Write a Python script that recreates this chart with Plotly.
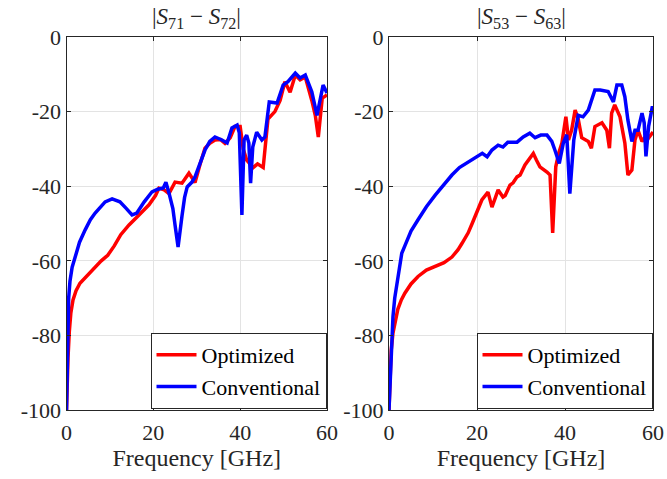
import plotly.graph_objects as go

# ---------------- data ----------------
freq_l_opt = [0, 0.15, 0.35, 0.65, 1.0, 1.5, 2.2, 3.1, 4.3, 5.5, 6.5, 8, 9.5, 11, 12.5, 14.4, 16.7, 19,
              20.5, 21.3, 22.5, 23.6, 25, 26.6, 28.2, 29.6, 30.8, 31.9, 33, 34.2, 35.5, 36.5, 37.7, 38.8,
              40, 40.7, 41.5, 43, 44, 45.3, 46.4, 48, 49.2, 50.3, 51.5, 52.7, 53.8, 55, 56.5, 57.3, 58,
              58.9, 60]
val_l_opt = [-100, -92, -86, -79, -74, -70.5, -68, -66, -64.5, -63, -61.7, -60, -58.5, -56, -53, -50.4,
             -47.7, -45, -42.5, -40.5, -41, -42, -38.9, -39.2, -36.5, -39, -34, -29.8, -28.5, -27.6, -27.5,
             -28.5, -27, -24, -24, -30, -33, -35, -34, -35, -22, -20, -17, -12, -14.8, -10.2, -11.5, -10.7,
             -17, -21, -26.8, -16.4, -15.5]

freq_l_conv = [0, 0.15, 0.3, 0.5, 0.8, 1.3, 2, 3, 4.3, 5.5, 6.6, 7.8, 8.9, 10.5, 12.3, 13.8, 15.1, 16.2,
               17.9, 19.7, 21, 22.3, 22.9, 23.6, 24.5, 25, 25.7, 26.6, 27.2, 27.8, 28.9, 29.6, 30.5, 31.9,
               33, 34.2, 35.8, 37, 38.1, 39.3, 39.8, 40.4, 40.9, 41.5, 42, 42.4, 42.9, 43.8, 45, 45.7, 46.7,
               48.5, 49.9, 51, 52.7, 53.8, 55, 56.5, 57.7, 58.4, 59.1, 60]
val_l_conv = [-100, -88, -78, -70, -65.5, -61.7, -59, -55, -51.7, -49, -47.2, -45.5, -44.2, -43.4, -44.2,
              -46, -47.7, -47.2, -44.2, -41.5, -40.8, -40.5, -38.9, -41.8, -46, -50.4, -56.3, -48, -43,
              -40.2, -38.9, -37.5, -34.5, -30.3, -28, -26.8, -27.6, -28.4, -24.4, -23.6, -25.7, -47.7,
              -27.6, -26.3, -28.4, -39.2, -29.5, -25.5, -27.6, -26.8, -17.4, -17.7, -12.9, -12, -9.7, -11,
              -10.2, -14.7, -21, -17, -12.9, -15]

freq_r_opt = [0, 0.2, 0.5, 0.9, 1.4, 2, 2.8, 3.6, 5, 6.6, 8.5, 10.5, 12.5, 14.3, 15.7, 16.6, 18, 18.9, 20,
              21.1, 22.5, 23.4, 24.2, 24.8, 25.9, 26.4, 27.5, 28.2, 29.1, 29.8, 30.9, 32, 32.8, 33.5, 34.3,
              35.9, 36.6, 37.2, 37.9, 38.6, 39.3, 40.2, 40.8, 41.5, 42.3, 43, 43.8, 45.3, 46, 46.8, 48.4,
              49.5, 50.1, 50.6, 51.3, 52.5, 53.6, 54.3, 55.2, 55.9, 56.6, 57.5, 58.2, 58.9, 60]
val_r_opt = [-100, -92, -84, -79.4, -76, -73, -70.5, -68.7, -66.2, -64.2, -62.5, -61.6, -60.5, -59, -57,
             -55.3, -52.5, -50, -47, -43.7, -41.6, -45.6, -43, -41, -42.9, -42.5, -39.7, -39.1, -37.5, -37,
             -34.3, -32.5, -31.2, -33, -34.8, -36.2, -37, -52.5, -34.8, -31, -28.4, -21.4, -27.6, -25,
             -19.6, -22, -27, -28, -29.8, -24, -23, -25, -29.8, -20.4, -18.2, -21.4, -28.4, -37, -35.7,
             -27.6, -25, -28, -26.8, -27.2, -25.5]

freq_r_conv = [0, 0.3, 0.7, 0.9, 1.3, 1.8, 2.4, 2.9, 3.6, 5, 6.6, 8.5, 10.5, 12.5, 14.3, 16, 18, 19.5, 21.2,
               22.3, 23.4, 24.8, 25.9, 27, 29.1, 30.5, 32, 33.2, 34.5, 35.9, 37, 37.7, 38.7, 39.6, 40.4,
               41.1, 42, 43, 44.1, 45.3, 46.8, 48, 49.8, 51, 51.8, 52.9, 53.6, 54.3, 55.2, 55.9, 56.6, 57.5,
               58, 58.4, 59, 59.8, 60]
val_r_conv = [-100, -90, -83, -75, -70, -66, -61, -58, -56, -52, -49, -45.5, -42.4, -39.5, -37, -35, -33.5,
              -32.3, -31.2, -32.1, -30.3, -29, -29.5, -28.2, -28.2, -26.8, -25.8, -27, -26.3, -26.3, -28,
              -30.3, -33.9, -28.5, -26.2, -42, -27.6, -21, -21.4, -19.6, -14.2, -14.2, -14.6, -17.4, -12.9,
              -12.9, -16, -22.3, -28, -25, -25, -20.4, -23, -32, -24, -19, -19]

x_ticks = [0, 20, 40, 60]
x_ticklabels = ["0", "20", "40", "60"]
y_ticks = [0, -20, -40, -60, -80, -100]
y_ticklabels = ["0", "-20", "-40", "-60", "-80", "-100"]

series_names = ["Optimized", "Conventional"]
titles = ["|<i>S</i><sub>71</sub> − <i>S</i><sub>72</sub>|",
          "|<i>S</i><sub>53</sub> − <i>S</i><sub>63</sub>|"]
x_title = "Frequency [GHz]"

# ---------------- figure ----------------
RED = "#ff0000"
BLUE = "#0000ff"
FONT = "Liberation Serif"
DARK = "#262626"
LW = 3.5

W, H = 667, 479
ML, MR, MT, MB = 60, 10, 30, 60
PW, PH = W - ML - MR, H - MT - MB


def px_x(p):
    return (p - ML) / PW


def px_y(p):
    return (H - MB - p) / PH


fig = go.Figure()
fig.add_trace(go.Scatter(x=freq_l_opt, y=val_l_opt, name=series_names[0], mode="lines",
                         line=dict(color=RED, width=LW), xaxis="x", yaxis="y", legend="legend"))
fig.add_trace(go.Scatter(x=freq_l_conv, y=val_l_conv, name=series_names[1], mode="lines",
                         line=dict(color=BLUE, width=LW), xaxis="x", yaxis="y", legend="legend"))
fig.add_trace(go.Scatter(x=freq_r_opt, y=val_r_opt, name=series_names[0], mode="lines",
                         line=dict(color=RED, width=LW), xaxis="x2", yaxis="y2", legend="legend2"))
fig.add_trace(go.Scatter(x=freq_r_conv, y=val_r_conv, name=series_names[1], mode="lines",
                         line=dict(color=BLUE, width=LW), xaxis="x2", yaxis="y2", legend="legend2"))

tickfont = dict(family=FONT, size=22, color=DARK)
common_x = dict(range=[0, 60], tickvals=x_ticks, ticktext=x_ticklabels, tickfont=tickfont,
                showline=True, linecolor=DARK, linewidth=1, mirror="allticks", ticks="inside",
                ticklen=4, tickcolor=DARK, showgrid=True, gridcolor="#e3e3e3", gridwidth=1,
                zeroline=False, automargin=False, ticklabelstandoff=3,
                title=dict(text=x_title, font=dict(family=FONT, size=24, color=DARK), standoff=2))
common_y = dict(range=[-100, 0], tickvals=y_ticks, ticktext=y_ticklabels, tickfont=tickfont,
                showline=True, linecolor=DARK, linewidth=1, mirror="allticks", ticks="inside",
                ticklen=4, tickcolor=DARK, showgrid=True, gridcolor="#e3e3e3", gridwidth=1,
                zeroline=False, automargin=False)

legend_common = dict(bgcolor="white", bordercolor=DARK, borderwidth=1,
                     font=dict(family=FONT, size=22, color="black"), tracegroupgap=0,
                     itemwidth=40, y=px_y(409), yanchor="bottom", xanchor="right")

ydom = [px_y(410), px_y(37)]
fig.update_layout(
    width=W, height=H, template="none",
    margin=dict(l=ML, r=MR, t=MT, b=MB),
    paper_bgcolor="white", plot_bgcolor="white",
    xaxis=dict(domain=[px_x(66.5), px_x(327)], anchor="y", **common_x),
    yaxis=dict(domain=ydom, anchor="x", **common_y),
    xaxis2=dict(domain=[px_x(389), px_x(653)], anchor="y2", **common_x),
    yaxis2=dict(domain=ydom, anchor="x2", **common_y),
    showlegend=True,
    legend=dict(x=px_x(326.5), **legend_common),
    legend2=dict(x=px_x(652.5), **legend_common),
)

for i, (cx, t) in enumerate([((66.5 + 327) / 2, titles[0]), ((389 + 653) / 2, titles[1])]):
    fig.add_annotation(text=t, xref="paper", yref="paper", x=px_x(cx), y=px_y(18),
                       xanchor="center", yanchor="middle", showarrow=False,
                       font=dict(family=FONT, size=23, color=DARK))

fig.write_html("out.html")
